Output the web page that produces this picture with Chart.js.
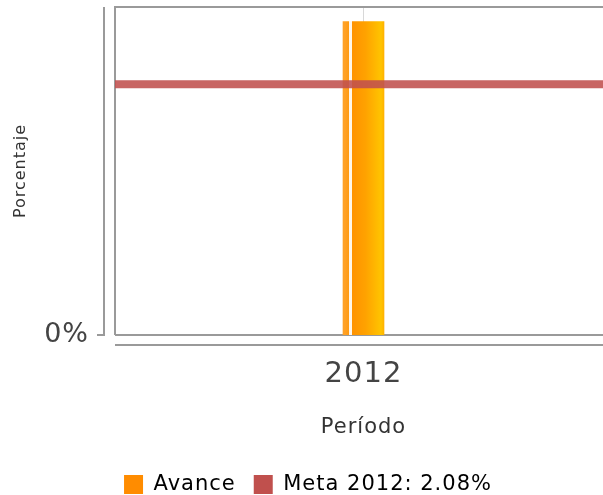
<!DOCTYPE html>
<html><head><meta charset="utf-8">
<script src="https://cdn.jsdelivr.net/npm/chart.js@4/dist/chart.umd.min.js"></script>
<style>html,body{margin:0;padding:0;overflow:hidden;background:#fff;width:603px;height:495px}#wrap{width:616px;height:505px}</style>
</head><body><div id="wrap"><canvas id="c" width="616" height="505"></canvas></div>
<script>
const categories = ['2012'];
const avance = [2.6];
const meta = [2.08];
const seriesNames = ['Avance', 'Meta 2012: 2.08%'];
const yTicks = [0];
const yMax = 2.72;

const FONT = 'DejaVu Sans';

function barFill(context) {
  const chart = context.chart;
  const el = chart.getDatasetMeta(0).data[0];
  if (!el || !isFinite(el.x) || !el.width) return '#ff9a00';
  const l = el.x - el.width / 2, r = el.x + el.width / 2;
  const g = chart.ctx.createLinearGradient(l, 0, r, 0);
  const w = el.width;
  const f = px => Math.min(1, Math.max(0, px / w));
  g.addColorStop(0, '#ffa126');
  g.addColorStop(f(4), '#ff9a10');
  g.addColorStop(f(4.5), '#fff6ea');
  g.addColorStop(f(7), '#fff6ea');
  g.addColorStop(f(7.5), '#ff9300');
  g.addColorStop(0.5, '#ffa200');
  g.addColorStop(0.88, '#ffc400');
  g.addColorStop(1, '#ffa500');
  return g;
}

const framePlugin = {
  id: 'frame',
  beforeUpdate(chart) { chart.ctx.letterSpacing = '1px'; },
  beforeDatasetsDraw(chart) {
    const { ctx, chartArea: a } = chart;
    ctx.save();
    ctx.strokeStyle = '#9a9a9a';
    ctx.lineWidth = 2;
    ctx.beginPath();
    ctx.moveTo(a.left, a.bottom); ctx.lineTo(a.left, a.top); ctx.lineTo(a.right + 8, a.top);
    ctx.moveTo(a.left, a.bottom); ctx.lineTo(a.right + 8, a.bottom);
    const y0 = chart.scales.y.getPixelForValue(0);
    ctx.moveTo(a.left - 11, a.top); ctx.lineTo(a.left - 11, y0);
    ctx.lineTo(a.left - 18, y0);
    ctx.moveTo(a.left, a.bottom + 10); ctx.lineTo(a.right + 8, a.bottom + 10);
    ctx.stroke();
    ctx.restore();
  }
};

const chart = new Chart(document.getElementById('c'), {
  data: {
    labels: categories,
    datasets: [
      { type: 'bar', label: seriesNames[0], data: avance, backgroundColor: barFill,
        borderWidth: 0, barThickness: 41, grouped: false, order: 2 },
      { type: 'line', label: seriesNames[1], xAxisID: 'x2',
        data: [{ x: 0, y: meta[0] }, { x: 1, y: meta[0] }],
        borderColor: 'rgba(192,80,77,0.88)', backgroundColor: '#c0504d',
        borderWidth: 8, pointRadius: 0, order: 1 }
    ]
  },
  options: {
    responsive: false,
    animation: false,
    layout: { padding: { top: 7, left: 0, right: 0, bottom: 0 } },
    plugins: {
      tooltip: { enabled: false },
      legend: {
        position: 'bottom',
        labels: {
          boxWidth: 19, boxHeight: 19, padding: 18, color: '#333',
          font: { family: FONT, size: 21 },
          generateLabels(chart) {
            return chart.data.datasets.map((d, i) => ({
              text: d.label, fillStyle: i === 0 ? '#ff8c00' : '#c0504d',
              strokeStyle: 'rgba(0,0,0,0)', lineWidth: 0, hidden: false, datasetIndex: i
            }));
          }
        }
      }
    },
    scales: {
      x: {
        type: 'category', offset: true,
        grid: { display: true, offset: false, color: '#d8d8d8', lineWidth: 1, drawTicks: false },
        border: { display: false },
        ticks: { color: '#444', font: { family: FONT, size: 29 }, padding: 22 },
        title: { display: true, text: 'Período', color: '#333', font: { family: FONT, size: 21 }, padding: { top: 14, bottom: 16 } },
        afterFit(s) { s.height = 121; }
      },
      x2: { type: 'linear', min: 0, max: 1, display: false },
      y: {
        min: 0, max: yMax,
        afterBuildTicks(s) { s.ticks = yTicks.map(v => ({ value: v })); },
        grid: { display: false, drawTicks: false },
        border: { display: false },
        ticks: { color: '#444', font: { family: FONT, size: 27 }, padding: 26, callback: v => v + '%' },
        title: { display: true, text: 'Porcentaje', color: '#333', font: { family: FONT, size: 16 }, padding: { top: 11, bottom: 0 } },
        afterFit(s) { s.width = 115; s.paddingTop = 0; s.paddingBottom = 0; }
      }
    }
  },
  plugins: [framePlugin]
});
chart.update();
</script>
</body></html>
